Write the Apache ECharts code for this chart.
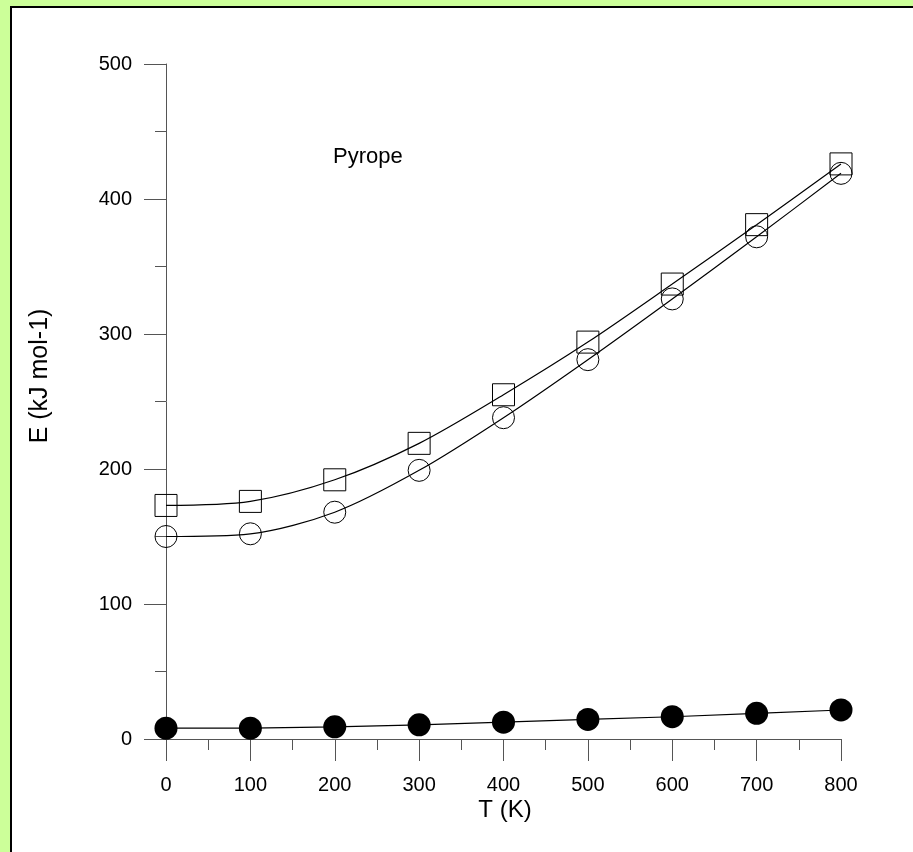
<!DOCTYPE html>
<html>
<head>
<meta charset="utf-8">
<script src="https://cdn.jsdelivr.net/npm/echarts@6/dist/echarts.min.js"></script>
<style>
  html, body { margin: 0; padding: 0; background: #ccff99; }
  #chart { width: 913px; height: 852px; }
</style>
</head>
<body>
<div id="chart"></div>
<script>
// Data
const temperatures = [0, 100, 200, 300, 400, 500, 600, 700, 800];
const squareE = [173, 176, 192, 219, 255, 294, 337, 381, 426];
const circleE = [150, 152, 168, 199, 238, 281, 326, 372, 419];
const filledE = [8, 8, 9, 10.5, 12.5, 14.5, 16.5, 19, 21.5];
const xTicks = { min: 0, max: 800, interval: 100 };
const yTicks = { min: 0, max: 500, interval: 100 };
const xTitle = 'T (K)';
const yTitle = 'E (kJ mol-1)';
const panelLabel = 'Pyrope';

const FONT = '"Liberation Sans", Arial, sans-serif';
const pairs = arr => temperatures.map((t, i) => [t, arr[i]]);

const chart = echarts.init(document.getElementById('chart'), null, { renderer: 'canvas' });

const axisCommon = {
  type: 'value',
  axisLine: { show: true, onZero: false, lineStyle: { color: '#555', width: 1 } },
  axisTick: { show: true, inside: false, length: 22, lineStyle: { color: '#555', width: 1 } },
  minorTick: { show: true, splitNumber: 2, length: 11, lineStyle: { color: '#555', width: 1 } },
  splitLine: { show: false },
  minorSplitLine: { show: false },
  axisLabel: { color: '#000', fontFamily: FONT, fontSize: 20 }
};

chart.setOption({
  backgroundColor: '#ccff99',
  animation: false,
  grid: { left: 166, right: 72, top: 64, bottom: 113, containLabel: false },
  xAxis: Object.assign({}, axisCommon, {
    min: xTicks.min, max: xTicks.max, interval: xTicks.interval,
    axisLabel: Object.assign({}, axisCommon.axisLabel, { margin: 36 })
  }),
  yAxis: Object.assign({}, axisCommon, {
    min: yTicks.min, max: yTicks.max, interval: yTicks.interval,
    axisLabel: Object.assign({}, axisCommon.axisLabel, { margin: 34 })
  }),
  graphic: [
    {
      type: 'rect', z: -10, silent: true,
      shape: { x: 11, y: 7, width: 940, height: 900 },
      style: { fill: '#ffffff', stroke: '#000', lineWidth: 2 }
    },
    {
      type: 'text', z: 10, x: 505, y: 810,
      style: { text: xTitle, fill: '#000', font: '24px ' + FONT, align: 'center', verticalAlign: 'middle' }
    },
    {
      type: 'text', z: 10, x: 40, y: 376, rotation: Math.PI / 2,
      style: { text: yTitle, fill: '#000', font: '25px ' + FONT, align: 'center', verticalAlign: 'middle' }
    },
    {
      type: 'text', z: 10, x: 333, y: 157,
      style: { text: panelLabel, fill: '#000', font: '22px ' + FONT, align: 'left', verticalAlign: 'middle' }
    }
  ],
  series: [
    {
      type: 'line', data: pairs(squareE), smooth: 0.3,
      symbol: 'rect', symbolSize: 22,
      itemStyle: { color: 'rgba(0,0,0,0)', borderColor: '#000', borderWidth: 1 },
      lineStyle: { color: '#000', width: 1.2 }
    },
    {
      type: 'line', data: pairs(circleE), smooth: 0.3,
      symbol: 'circle', symbolSize: 22,
      itemStyle: { color: 'rgba(0,0,0,0)', borderColor: '#000', borderWidth: 1 },
      lineStyle: { color: '#000', width: 1.2 }
    },
    {
      type: 'line', data: pairs(filledE), smooth: false,
      symbol: 'circle', symbolSize: 23,
      itemStyle: { color: '#000', borderColor: '#000', borderWidth: 0 },
      lineStyle: { color: '#000', width: 1.2 }
    }
  ]
});
</script>
</body>
</html>
